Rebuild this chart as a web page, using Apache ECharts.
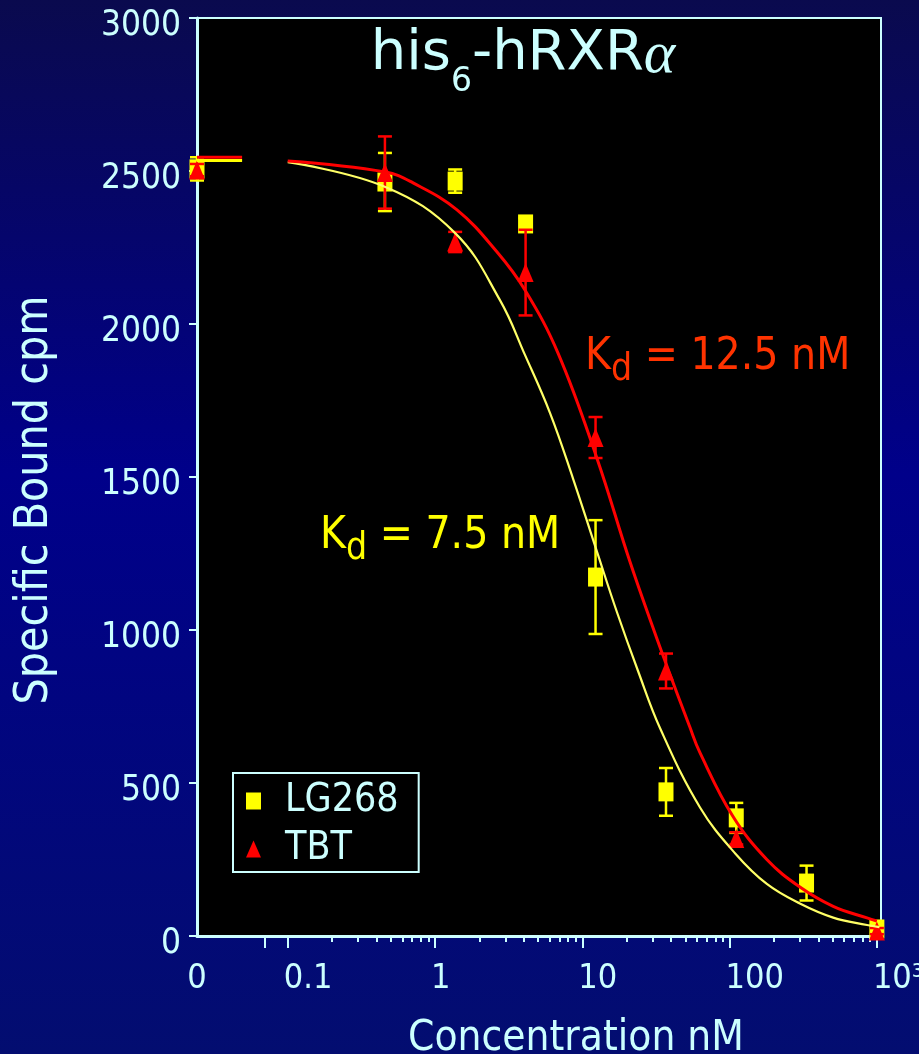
<!DOCTYPE html>
<html><head><meta charset="utf-8">
<script src="https://cdn.jsdelivr.net/npm/echarts@6/dist/echarts.min.js"></script>
<style>html,body{margin:0;padding:0;background:#00007a}#c{width:919px;height:1054px}</style>
</head><body><div id="c"></div>
<script>
// ---------------- data ----------------
const lg268Conc   = [0, 0.457, 1.37, 4.12, 12.3, 37, 111, 333, 1000];
const lg268Values = [2507, 2464, 2467, 2327, 1173, 471, 386, 173, 23];
const lg268Errors = [38, 95, 38, 20, 186, 78, 49, 57, 12];

const tbtConc   = [0, 0.457, 1.37, 4.12, 12.3, 37, 111, 1000];
const tbtValues = [2503, 2495, 2268, 2168, 1629, 866, 319, 16];
const tbtErrors = [20, 118, 33, 140, 67, 57, 20, 10];

const lg268FitConc   = [0.1, 0.46, 1.37, 2.76, 4.08, 6.04, 8.65, 12.4, 17.2, 23.9, 33.8, 63, 110, 179, 300, 505, 857, 1040];
const lg268FitValues = [2529, 2448, 2297, 2078, 1899, 1709, 1495, 1265, 1058, 866, 678, 420, 268, 170, 106, 60, 36, 29];
const tbtFitConc     = [0.1, 0.46, 0.71, 1.41, 2.63, 4.08, 6.84, 12.6, 21.1, 33.7, 53.8, 62.8, 105, 179, 300, 505, 857, 1000];
const tbtFitValues   = [2533, 2497, 2461, 2373, 2236, 2111, 1905, 1560, 1222, 944, 682, 600, 392, 250, 160, 97, 59, 49];

// fitted plateau drawn at zero concentration (left of the axis break)
const stubConc        = [0, 0.049];
const lg268StubValues = [2534, 2534];
const tbtStubValues   = [2545, 2545];

const xTickLabels = ['0', '0.1', '1', '10', '100', '10³'];
const xTickConc   = [0, 0.1, 1, 10, 100, 1000];

// ---------------- scale helpers ----------------
const ZERO_POS = -1.616;      // axis position used for concentration 0 (broken log axis)
const X_MAX = 3.028;
const BREAK_POS = -1.155;
const xPos = c => (c === 0 ? ZERO_POS : Math.log10(c));

const majorTicks = [BREAK_POS, -1, 0, 1, 2, 3];
const minorTicks = [];
for (let d = -1; d <= 2; d++) for (let k = 2; k <= 9; k++) minorTicks.push(Math.log10(k * Math.pow(10, d)));
const labelPos = xTickConc.map(xPos);

const AX = '#ccffff';
const F = "'DejaVu Sans Condensed', 'DejaVu Sans', sans-serif";

const pts = (cs, vs) => cs.map((c, i) => [xPos(c), vs[i]]);
const errs = (cs, vs, es) => cs.map((c, i) => [xPos(c), vs[i] - es[i], vs[i] + es[i]]);

function errRender(color) {
  return function (params, api) {
    const x = api.value(0);
    const p1 = api.coord([x, api.value(1)]);
    const p2 = api.coord([x, api.value(2)]);
    const w = 7, st = { stroke: color, lineWidth: 2.5 };
    return { type: 'group', children: [
      { type: 'line', shape: { x1: p1[0], y1: p1[1], x2: p2[0], y2: p2[1] }, style: st },
      { type: 'line', shape: { x1: p1[0] - w, y1: p1[1], x2: p1[0] + w, y2: p1[1] }, style: st },
      { type: 'line', shape: { x1: p2[0] - w, y1: p2[1], x2: p2[0] + w, y2: p2[1] }, style: st }
    ]};
  };
}

const chart = echarts.init(document.getElementById('c'), null, { renderer: 'canvas' });
chart.setOption({
  animation: false,
  backgroundColor: { type: 'linear', x: 0, y: 0, x2: 0, y2: 1,
    colorStops: [{ offset: 0, color: '#0a0a4e' }, { offset: 0.45, color: '#00008a' }, { offset: 1, color: '#030d70' }] },
  grid: { left: 197, top: 18, right: 38, bottom: 118, outerBoundsMode: 'none', containLabel: false,
    show: true, backgroundColor: '#000000', borderColor: AX, borderWidth: 2 },
  legend: {
    left: 233, top: 773, orient: 'vertical',
    backgroundColor: '#000000', borderColor: AX, borderWidth: 2,
    padding: [8, 20, 3, 13], itemGap: 8, itemWidth: 15, itemHeight: 17,
    textStyle: { color: AX, fontSize: 39, fontFamily: F, lineHeight: 40, padding: [0, 0, 0, 19] },
    data: [{ name: 'LG268', icon: 'rect', itemStyle: { color: '#ffff00', opacity: 1 } },
           { name: 'TBT', icon: 'triangle', itemStyle: { color: '#ff0000', opacity: 1 } }]
  },
  xAxis: [{
    type: 'value', min: ZERO_POS, max: X_MAX, position: 'bottom',
    axisLine: { show: true, onZero: false, lineStyle: { color: AX, width: 3 } },
    axisTick: { show: true, length: 12, customValues: majorTicks, lineStyle: { color: AX, width: 2 } },
    axisLabel: {
      show: true, customValues: labelPos, margin: 26, align: 'center',
      color: AX, fontSize: 34, fontFamily: F,
      formatter: function (v) {
        let best = 0;
        labelPos.forEach((p, i) => { if (Math.abs(p - v) < Math.abs(labelPos[best] - v)) best = i; });
        return best === 0 ? '{z|' + xTickLabels[best] + '}' : '{n|' + xTickLabels[best] + '}';
      },
      rich: {
        z: { color: AX, fontSize: 34, fontFamily: F, align: 'center' },
        n: { color: AX, fontSize: 34, fontFamily: F, width: 8, align: 'left' }
      }
    },
    splitLine: { show: false }
  }, {
    type: 'value', min: ZERO_POS, max: X_MAX, position: 'bottom',
    axisLine: { show: false, onZero: false },
    axisTick: { show: true, length: 6, customValues: minorTicks, lineStyle: { color: AX, width: 2 } },
    axisLabel: { show: false },
    splitLine: { show: false }
  }],
  yAxis: {
    type: 'value', min: 0, max: 3000, interval: 500,
    axisLine: { show: true, onZero: false, lineStyle: { color: AX, width: 3 } },
    axisTick: { show: true, length: 8, lineStyle: { color: AX, width: 2 } },
    axisLabel: { color: AX, fontSize: 35, fontFamily: F, margin: 16,
      formatter: v => '{v|' + v + '}',
      rich: { v: { color: AX, fontSize: 35, fontFamily: F, padding: [16, 0, 0, 0] } } },
    splitLine: { show: false }
  },
  graphic: [
    { type: 'text', x: 523, y: 26, z: 100,
      style: { text: '{a|his}{s|6}{a|-hRXR}{g|α}', align: 'center', verticalAlign: 'top',
        rich: {
          a: { fontSize: 56, fontFamily: "'DejaVu Sans', sans-serif", fill: AX, verticalAlign: 'top' },
          s: { fontSize: 33, fontFamily: "'DejaVu Sans', sans-serif", fill: AX, verticalAlign: 'top', padding: [40, 0, 0, 0] },
          g: { fontSize: 60, fontFamily: "'Liberation Serif', serif", fontStyle: 'italic', fill: AX, verticalAlign: 'top' }
        } } },
    { type: 'text', x: 585, y: 336, z: 100,
      style: { text: '{k|K}{d|d}{k| = 12.5 nM}', align: 'left', verticalAlign: 'top',
        rich: {
          k: { fontSize: 44, fontFamily: F, fill: '#ff3300', verticalAlign: 'top' },
          d: { fontSize: 37, fontFamily: F, fill: '#ff3300', verticalAlign: 'top', padding: [16, 0, 0, 0] }
        } } },
    { type: 'text', x: 320, y: 515, z: 100,
      style: { text: '{k|K}{d|d}{k| = 7.5 nM}', align: 'left', verticalAlign: 'top',
        rich: {
          k: { fontSize: 44, fontFamily: F, fill: '#ffff00', verticalAlign: 'top' },
          d: { fontSize: 37, fontFamily: F, fill: '#ffff00', verticalAlign: 'top', padding: [16, 0, 0, 0] }
        } } },
    { type: 'text', x: 35, y: 500, rotation: Math.PI / 2, z: 100,
      style: { text: 'Specific Bound cpm', align: 'center', verticalAlign: 'middle', fontSize: 46, fontFamily: F, fill: AX } },
    { type: 'text', x: 576, y: 1039, z: 100,
      style: { text: 'Concentration nM', align: 'center', verticalAlign: 'middle', fontSize: 42, fontFamily: F, fill: AX } }
  ],
  series: [
    { name: 'LG268 err', type: 'custom', renderItem: errRender('#ffff00'), data: errs(lg268Conc, lg268Values, lg268Errors),
      encode: { x: 0, y: [1, 2] }, z: 3, silent: true },
    { name: 'LG268', type: 'scatter', data: pts(lg268Conc, lg268Values), symbol: 'rect', symbolSize: [15, 19],
      itemStyle: { color: '#ffff00', opacity: 1 }, z: 4 },
    { name: 'TBT err', type: 'custom', renderItem: errRender('#ff0000'), data: errs(tbtConc, tbtValues, tbtErrors),
      encode: { x: 0, y: [1, 2] }, z: 5, silent: true },
    { name: 'TBT', type: 'scatter', data: pts(tbtConc, tbtValues), symbol: 'triangle', symbolSize: [16, 19],
      itemStyle: { color: '#ff0000', opacity: 1 }, z: 6 },
    { name: 'LG268 fit', type: 'line', data: pts(lg268FitConc, lg268FitValues), smooth: 0.4, showSymbol: false,
      lineStyle: { color: '#ffff66', width: 2.2 }, z: 7 },
    { name: 'TBT fit', type: 'line', data: pts(tbtFitConc, tbtFitValues), smooth: 0.4, showSymbol: false,
      lineStyle: { color: '#ff0000', width: 3 }, z: 8 },
    { name: 'LG268 plateau', type: 'line', data: pts(stubConc, lg268StubValues), showSymbol: false,
      lineStyle: { color: '#ffff00', width: 3 }, z: 7 },
    { name: 'TBT plateau', type: 'line', data: pts(stubConc, tbtStubValues), showSymbol: false,
      lineStyle: { color: '#ff0000', width: 3 }, z: 8 }
  ]
});
</script></body></html>
